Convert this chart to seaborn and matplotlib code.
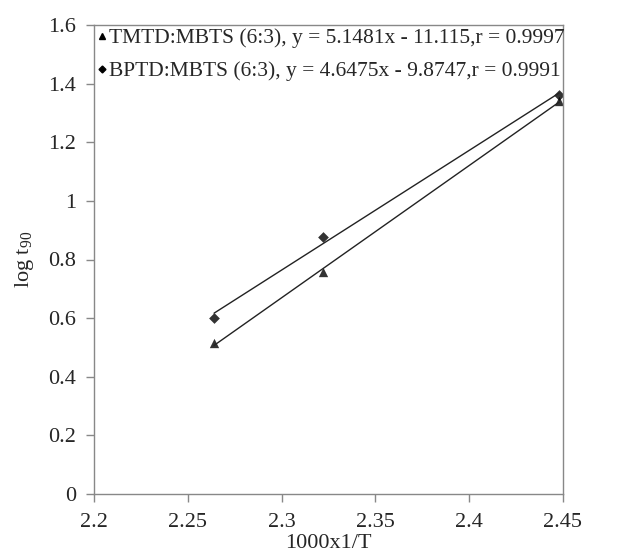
import numpy as np
import matplotlib
matplotlib.use("Agg")
import matplotlib.pyplot as plt
import seaborn as sns
from matplotlib.lines import Line2D

sns.set_theme(style="white")
plt.rcParams['font.family'] = ['Liberation Serif', 'DejaVu Serif']
plt.rcParams['mathtext.fontset'] = 'custom'
plt.rcParams['mathtext.rm'] = 'Liberation Serif'

# values
x_inv_t = [2.264, 2.322, 2.448]
tmtd_log_t90 = [0.515, 0.757, 1.341]
bptd_log_t90 = [0.601, 0.877, 1.361]

tmtd_label = "TMTD:MBTS (6:3), y = 5.1481x - 11.115,r = 0.9997"
bptd_label = "BPTD:MBTS (6:3), y = 4.6475x - 9.8747,r = 0.9991"

x_ticks = [2.2, 2.25, 2.3, 2.35, 2.4, 2.45]
x_tick_labels = ["2.2", "2.25", "2.3", "2.35", "2.4", "2.45"]
y_ticks = [0, 0.2, 0.4, 0.6, 0.8, 1.0, 1.2, 1.4, 1.6]
y_tick_labels = ["0", "0.2", "0.4", "0.6", "0.8", "1", "1.2", "1.4", "1.6"]

fig = plt.figure(figsize=(6.41, 5.6), dpi=100)
ax = fig.add_axes([94 / 641, 66 / 560, 469 / 641, 469 / 560])

sns.regplot(x=x_inv_t, y=tmtd_log_t90, ci=None, marker="^", color="black", ax=ax,
            scatter_kws={"s": 45, "linewidths": 0},
            line_kws={"linewidth": 1.0, "color": "#222222"})
sns.regplot(x=x_inv_t, y=bptd_log_t90, ci=None, marker="D", color="black", ax=ax,
            scatter_kws={"s": 30, "linewidths": 0},
            line_kws={"linewidth": 1.0, "color": "#222222"})

ax.set_xlim(2.2, 2.45)
ax.set_ylim(0, 1.6)
ax.set_xticks(x_ticks)
ax.set_xticklabels(x_tick_labels)
ax.set_yticks(y_ticks)
ax.set_yticklabels(y_tick_labels)
ax.tick_params(axis="both", which="major", labelsize=16, length=6, width=1,
               color="#888888", direction="out", bottom=True, left=True)
ax.tick_params(axis="x", pad=8)
ax.tick_params(axis="y", pad=7)
for sp in ax.spines.values():
    sp.set_color("#888888")
    sp.set_linewidth(1.0)

ax.set_xlabel("1000x1/T", fontsize=16, labelpad=1)
ax.set_ylabel("log t$_{90}$", fontsize=16, labelpad=9)

handles = [
    Line2D([], [], marker="^", color="black", linestyle="none", markersize=5),
    Line2D([], [], marker="D", color="black", linestyle="none", markersize=3.5),
]
ax.legend(handles, [tmtd_label, bptd_label], loc="upper left", frameon=False,
          fontsize=15.5, handlelength=0.4, handletextpad=0.15, borderaxespad=0.05,
          borderpad=0.1, labelspacing=0.6)

fig.savefig("out.png", dpi=100)
